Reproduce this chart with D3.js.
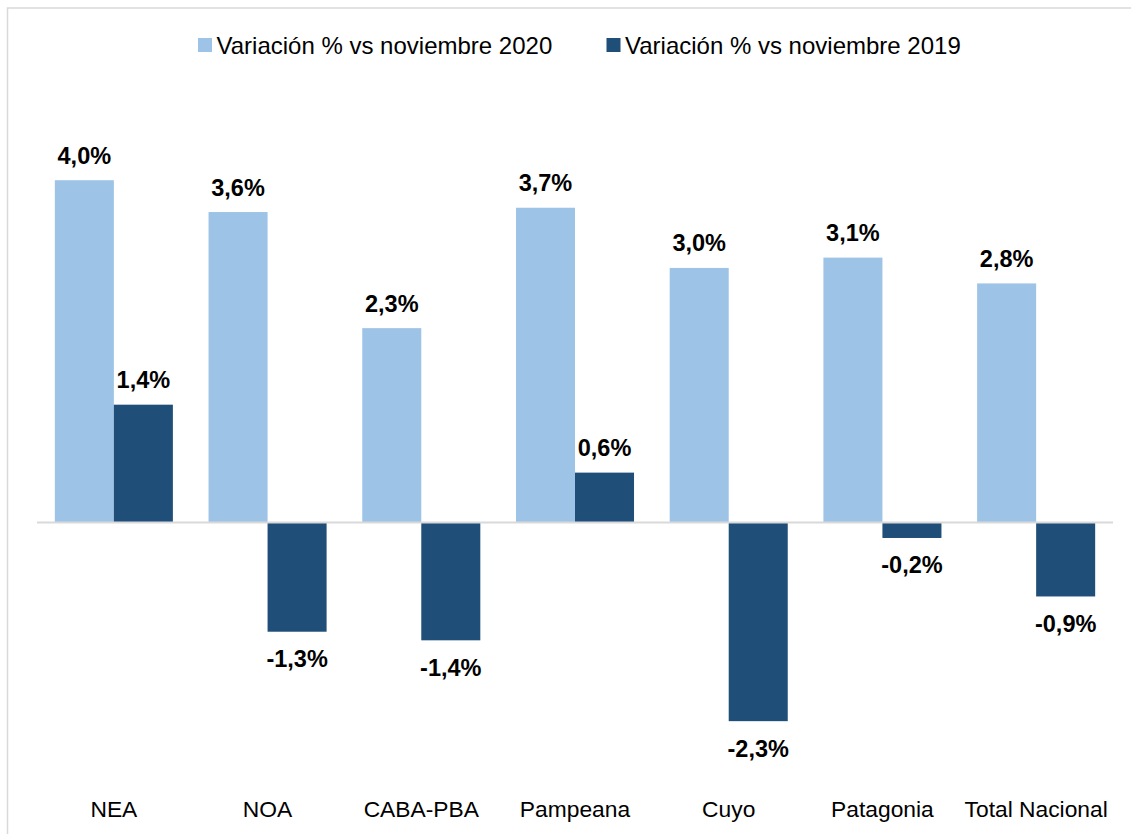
<!DOCTYPE html>
<html>
<head>
<meta charset="utf-8">
<script src="https://cdn.jsdelivr.net/npm/d3@7"></script>
<style>
  html, body { margin: 0; padding: 0; background: #fff; }
  svg { display: block; font-family: "Liberation Sans", Arial, sans-serif; }
</style>
</head>
<body>
<svg id="chart" width="1131" height="834"></svg>
<script>
const categories = ["NEA", "NOA", "CABA-PBA", "Pampeana", "Cuyo", "Patagonia", "Total Nacional"];
const seriesNames = ["Variación % vs noviembre 2020", "Variación % vs noviembre 2019"];
const vs2020 = [3.98, 3.61, 2.26, 3.66, 2.96, 3.08, 2.78];
const vs2019 = [1.37, -1.27, -1.37, 0.58, -2.31, -0.18, -0.86];
const colors = ["#9dc3e6", "#1f4e79"];

const svg = d3.select("#chart");
const W = 1131, H = 834;

// frame
svg.append("rect").attr("x", 7.5).attr("y", 8).attr("width", W + 20).attr("height", H + 20)
  .attr("fill", "none").attr("stroke", "#d9d9d9").attr("stroke-width", 1.5);

const x0 = d3.scaleBand().domain(categories).range([37, 1113])
  .paddingInner(0.232).paddingOuter(0.116);
const x1 = d3.scaleBand().domain([0, 1]).range([0, x0.bandwidth()]);
const y = d3.scaleLinear().domain([-3, 4.5]).range([522.5 + 3 * 86, 522.5 - 4.5 * 86]);

const data = categories.map((c, i) => ({ cat: c, vals: [vs2020[i], vs2019[i]] }));
const fmt = v => v.toFixed(1).replace(".", ",") + "%";

const groups = svg.append("g").selectAll("g").data(data).join("g")
  .attr("transform", d => `translate(${x0(d.cat)},0)`);

groups.selectAll("rect").data(d => d.vals.map((v, s) => ({ v, s }))).join("rect")
  .attr("x", d => x1(d.s))
  .attr("width", x1.bandwidth())
  .attr("y", d => y(Math.max(0, d.v)))
  .attr("height", d => Math.abs(y(d.v) - y(0)))
  .attr("fill", d => colors[d.s]);

groups.selectAll("text").data(d => d.vals.map((v, s) => ({ v, s }))).join("text")
  .attr("x", d => x1(d.s) + x1.bandwidth() / 2)
  .attr("y", d => d.v >= 0 ? y(d.v) - 16.5 : y(d.v) + 35.5)
  .attr("text-anchor", "middle")
  .attr("font-size", 23.5).attr("font-weight", "bold").attr("fill", "#000")
  .text(d => fmt(d.v));

// zero line
svg.append("line").attr("x1", 37).attr("x2", 1113).attr("y1", y(0)).attr("y2", y(0))
  .attr("stroke", "#d9d9d9").attr("stroke-width", 2);

// category axis labels
const xAxis = d3.axisBottom(x0).tickSize(0).tickPadding(0);
const ax = svg.append("g").attr("transform", "translate(0,800)").call(xAxis);
ax.select(".domain").remove();
ax.selectAll("text").attr("font-size", 22.8).attr("fill", "#000")
  .attr("font-family", "Liberation Sans, Arial, sans-serif").attr("dy", "16.5px");

// legend
const legendX = [198, 606.5];
const leg = svg.append("g").selectAll("g").data(seriesNames).join("g")
  .attr("transform", (d, i) => `translate(${legendX[i]},38)`);
leg.append("rect").attr("width", 14).attr("height", 14).attr("fill", (d, i) => colors[i]);
leg.append("text").attr("x", 18.5).attr("y", 15.5).attr("font-size", 24).attr("fill", "#000")
  .text(d => d);
</script>
</body>
</html>
